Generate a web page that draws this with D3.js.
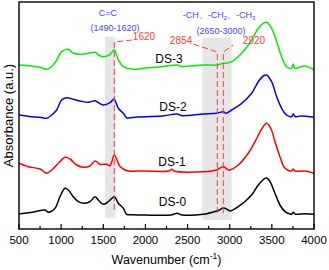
<!DOCTYPE html>
<html><head><meta charset="utf-8">
<script src="https://cdn.jsdelivr.net/npm/d3@7"></script>
<style>html,body{margin:0;padding:0;background:#fff;}svg{display:block;font-family:"Liberation Sans",Arial,sans-serif;}</style>
</head><body><svg id="c" width="329" height="270"></svg>
<script>
// ---- data ----
const ds0_wn  = [500,690,808,848,927,986,1046,1085,1144,1204,1283,1342,1402,1441,1500,1560,1632,1678,1738,1777,1850,2000,2300,2378,2420,2686,2845,2880,2924,2983,3004,3102,3260,3339,3418,3440,3478,3537,3596,3656,3700,3735,3754,3775,3893,4000];
const ds0_abs = [15,17.3,19,16.7,20.7,32.3,40.7,39,32.3,27.3,25.7,27.3,32.3,29,24.7,27.3,32.3,25.7,20.7,14.7,14.3,14,14,15.7,14.3,14.7,18,19,21.3,19,18,22.3,34,44,50.7,51,47.3,35.7,24,17.3,15.5,14.7,16.7,15,15.3,14.7];

const ds1_wn  = [500,611,749,828,888,966,1046,1105,1184,1263,1342,1402,1461,1540,1580,1631,1678,1700,1757,1800,2000,2280,2312,2340,2686,2845,2924,2983,3004,3102,3220,3300,3380,3438,3490,3537,3596,3656,3735,3754,3775,3893,4000];
const ds1_abs = [65.7,62.3,60,55.7,59,65.7,71.7,70,64,61.7,63,68,64.7,64.7,63.3,74,65.7,62.5,59,58,58,58,59.7,58,57.3,59,62.3,59,59,64,75.7,87.3,100,105.7,100,87.3,72.3,60.7,58,60,58,58,55.7];

const ds2_wn  = [500,650,749,828,888,947,1006,1066,1145,1224,1323,1402,1441,1500,1580,1627,1678,1738,1777,1900,2200,2378,2420,2686,2845,2924,2955,3023,3142,3260,3339,3398,3438,3497,3557,3616,3675,3735,3754,3775,3850,4000];
const ds2_abs = [114,112.3,111.7,110.7,114,119,129,131.3,129.7,128,126.7,128.3,126.3,124,126.3,130,120.7,115.7,111.3,112,113,115,113.5,115,115.7,117.3,115.7,119,125.7,135.7,147.3,153,154,147.3,132.3,120.7,114,112.3,115,112.5,113,111.7];

const ds3_wn  = [500,650,749,828,888,947,1006,1085,1144,1283,1402,1441,1500,1580,1630,1678,1738,1855,2000,2200,2378,2420,2686,2845,2924,2955,3023,3142,3260,3339,3398,3438,3497,3557,3616,3675,3735,3754,3775,3893,4000];
const ds3_abs = [164,163,161.7,159.7,162.3,169,177.3,179.7,175.7,175,176.7,174,172.3,174.7,179,169,162.3,159.7,161,162.3,164,162.5,164,164,165.7,165.7,167.3,175.7,189,200.7,205.7,206.7,200.7,187.3,172.3,162.3,160.7,165,160.7,163,159];

const seriesNames = ["DS-0","DS-1","DS-2","DS-3"];
const labelWn  = [2321,2315,2327,2280];
const labelAbs = [23.5,63,118,166.3];

const xTicks = [500,1000,1500,2000,2500,3000,3500,4000];
const xMinor = [750,1250,1750,2250,2750,3250,3750];

const bandRanges = [[1520,1645],[2675,3023]];
const bandAbs = [[10.7,192.3],[9,191.3]];
const peakLines = [1630,2853,2924];

// ---- drawing ----
const W=329,H=270, L=19,R=314,T=2,B=229;
const svg=d3.select("#c");
const x=d3.scaleLinear().domain([500,4000]).range([L,R]);
const y=d3.scaleLinear().domain([0,227]).range([B,T]);

const defs=svg.append("defs");
const pat=defs.append("pattern").attr("id","hatch").attr("patternUnits","userSpaceOnUse")
  .attr("width",3).attr("height",3).attr("patternTransform","rotate(45)");
pat.append("rect").attr("width",3).attr("height",3).attr("fill","#e9e9e9");
pat.append("line").attr("x1",0).attr("y1",0).attr("x2",0).attr("y2",3).attr("stroke","#d6d6d6").attr("stroke-width",1);

bandRanges.forEach((b,i)=>{
  svg.append("rect").attr("x",x(b[0])).attr("width",x(b[1])-x(b[0]))
    .attr("y",y(bandAbs[i][1])).attr("height",y(bandAbs[i][0])-y(bandAbs[i][1]))
    .attr("fill","url(#hatch)");
});

const colors=["#000000","#ff0000","#0000ee","#00ee00"];
const sets=[[ds0_wn,ds0_abs],[ds1_wn,ds1_abs],[ds2_wn,ds2_abs],[ds3_wn,ds3_abs]];
const line=d3.line().x(d=>x(d[0])).y(d=>y(d[1])).curve(d3.curveCatmullRom.alpha(0.5));
sets.forEach((s,i)=>{
  const pts=s[0].map((w,j)=>[w,s[1][j]]);
  svg.append("path").attr("d",line(pts)).attr("fill","none").attr("stroke",colors[i])
    .attr("stroke-width",1.5).attr("stroke-linejoin","round");
});

// dashed annotation lines
const red="#ff3b3b";
const dl=d3.line().x(d=>x(d[0])).y(d=>y(d[1]));
const dashPaths=[
  [[peakLines[0],19],[peakLines[0],187],[1840,189]],
  [[peakLines[1],16],[peakLines[1],177],[2545,185.5]],
  [[peakLines[2],16],[peakLines[2],177],[3040,184]]
];
dashPaths.forEach(p=>{
  svg.append("path").attr("d",dl(p)).attr("fill","none").attr("stroke",red)
    .attr("stroke-width",1).attr("stroke-dasharray","6,3");
});

// series labels
seriesNames.forEach((n,i)=>{
  svg.append("text").attr("x",x(labelWn[i])).attr("y",y(labelAbs[i])).attr("text-anchor","middle")
    .attr("font-size",12).attr("fill","#000").text(n);
});

// annotations
const blue="#4646ff";
function ann(t,w,a,c,fs){return svg.append("text").attr("x",x(w)).attr("y",y(a)).attr("text-anchor","middle").attr("font-size",fs).attr("fill",c).text(t);}
ann("C=C",1556,213.5,blue,9);
ann("(1490-1620)",1639,198.5,blue,9);
ann("1620",1983,189.5,red,10);
ann("2854",2422,185.5,red,10);
ann("2920",3288,185.5,red,10);
ann("(2650-3000)",2896,195.5,blue,9);
const ch=svg.append("text").attr("x",x(2873)).attr("y",y(211.5)).attr("text-anchor","middle").attr("font-size",9).attr("fill",blue);
ch.append("tspan").text("-CH、-CH");
ch.append("tspan").attr("font-size",6).attr("dy",2).text("2");
ch.append("tspan").attr("dy",-2).text("、-CH");
ch.append("tspan").attr("font-size",6).attr("dy",2).text("3");

// axes frame & ticks
svg.append("rect").attr("x",L).attr("y",T).attr("width",R-L).attr("height",B-T)
  .attr("fill","none").attr("stroke","#000").attr("stroke-width",1.4);
xTicks.forEach(t=>{
  svg.append("line").attr("x1",x(t)).attr("x2",x(t)).attr("y1",B).attr("y2",B-5).attr("stroke","#000").attr("stroke-width",1.2);
  svg.append("text").attr("x",x(t)).attr("y",B+15).attr("text-anchor","middle").attr("font-size",11.5).text(t);
});
xMinor.forEach(t=>{
  svg.append("line").attr("x1",x(t)).attr("x2",x(t)).attr("y1",B).attr("y2",B-3).attr("stroke","#000").attr("stroke-width",1.2);
});
const xl=svg.append("text").attr("x",(L+R)/2).attr("y",264).attr("text-anchor","middle").attr("font-size",12.5);
xl.append("tspan").text("Wavenumber (cm");
xl.append("tspan").attr("font-size",8.5).attr("dy",-5).text("-1");
xl.append("tspan").attr("dy",5).text(")");
svg.append("text").attr("transform",`translate(13,${(T+B)/2}) rotate(-90)`).attr("text-anchor","middle")
  .attr("font-size",13).text("Absorbance (a.u.)");
</script></body></html>
